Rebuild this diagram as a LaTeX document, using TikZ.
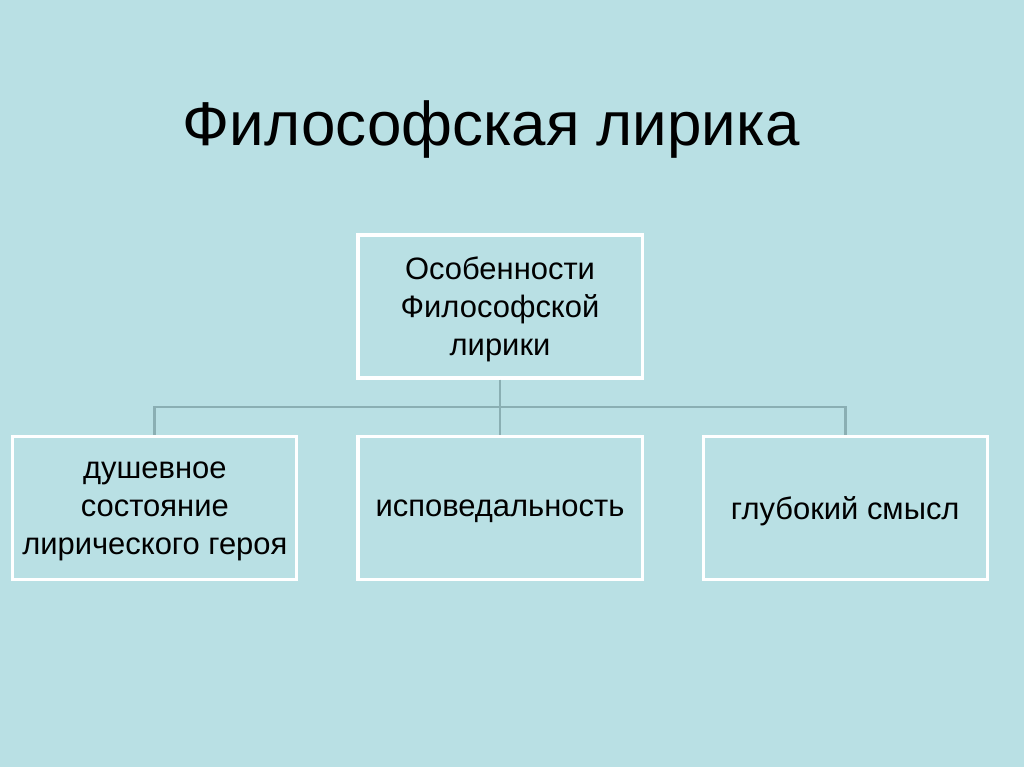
\documentclass[tikz,border=0pt]{standalone}
\usepackage{fontspec}
\setmainfont{Liberation Sans}
\usetikzlibrary{positioning}
\usepackage{xcolor}
\definecolor{bg}{HTML}{B9E0E4}
\definecolor{edge}{HTML}{8AAFB3}
\tikzset{
  n/.style={draw=white, line width=2.2pt, fill=bg, align=center, font=\fontsize{22}{27}\selectfont,
    minimum width=7.1cm, minimum height=3.575cm, inner sep=1pt, text depth=-4pt},
  a/.style={draw=edge, line width=2pt},
}

\begin{document}
\begin{tikzpicture}[x=0.025cm, y=-0.025cm]
\fill[bg] (0,0) rectangle (1024,767);
\useasboundingbox (0,0) rectangle (1024,767);
\node[font=\fontsize{44}{50}\selectfont] (title) at (491,130) {Философская лирика};
\node[n] (top) at (500,306.5) {Особенности\\Философской\\лирики};
\node[n] (mid) at (500,508) {исповедальность};
\node[n, left=1.45cm of mid] (soul) {душевное\\состояние\\лирического героя};
\node[n, right=1.45cm of mid] (deep) {глубокий смысл};
\coordinate (hub) at (500,407);

\draw[a] (top) -- (hub);
\draw[a] (soul.north) |- (hub);
\draw[a] (deep.north) |- (hub);
\draw[a] (hub) -- (mid);
\end{tikzpicture}
\end{document}
